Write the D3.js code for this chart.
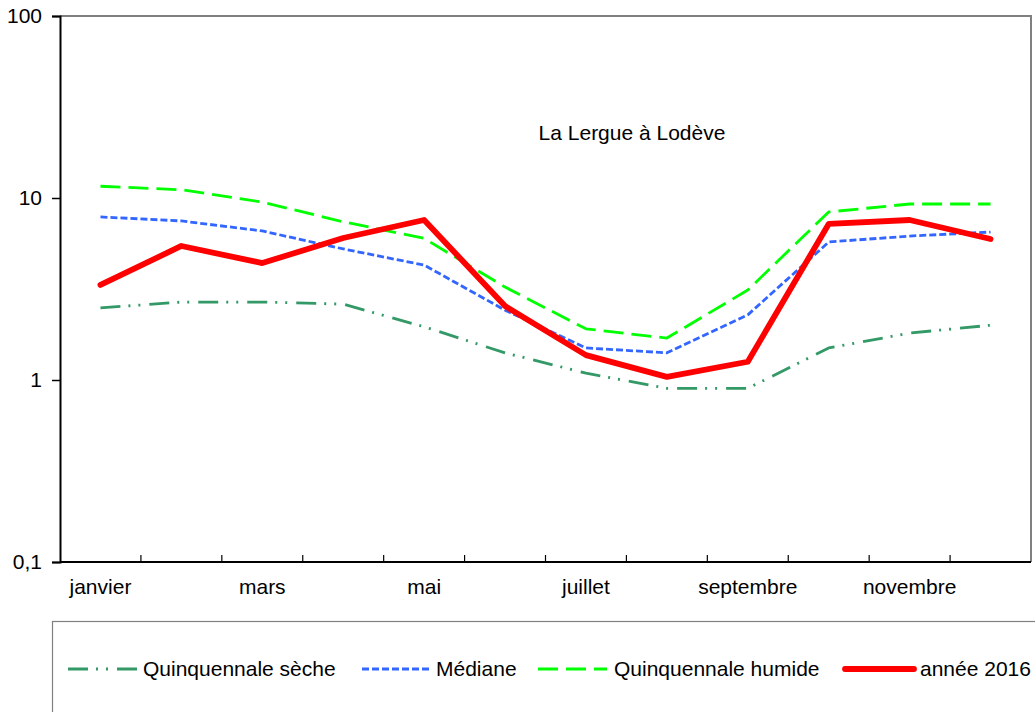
<!DOCTYPE html>
<html>
<head>
<meta charset="utf-8">
<script src="https://cdn.jsdelivr.net/npm/d3@7"></script>
<style>
  html, body { margin: 0; padding: 0; background: #fff; }
  svg { display: block; font-family: "Liberation Sans", Arial, sans-serif; }
</style>
</head>
<body>
<svg id="chart" width="1035" height="712"></svg>
<script>
// Monthly flows (m3/s) of La Lergue at Lodève
const months = ["janvier", "février", "mars", "avril", "mai", "juin",
                "juillet", "août", "septembre", "octobre", "novembre", "décembre"];
const shownMonths = ["janvier", "mars", "mai", "juillet", "septembre", "novembre"];
const yTicks = [0.1, 1, 10, 100];

const quinquennaleSeche  = [2.49, 2.68, 2.68, 2.61, 1.96, 1.41, 1.09, 0.90, 0.90, 1.50, 1.81, 2.00];
const mediane            = [7.87, 7.48, 6.59, 5.25, 4.28, 2.42, 1.50, 1.41, 2.28, 5.73, 6.18, 6.50];
const quinquennaleHumide = [11.6, 11.1, 9.5, 7.4, 6.0, 3.24, 1.91, 1.70, 3.12, 8.38, 9.27, 9.27];
const annee2016          = [3.33, 5.45, 4.39, 6.03, 7.57, 2.55, 1.37, 1.04, 1.26, 7.20, 7.57, 5.95];

const series = [
  { name: "Quinquennale sèche",  values: quinquennaleSeche,  color: "#339966", width: 2.8, dash: "20,8,2,8,2,9" },
  { name: "Médiane",             values: mediane,            color: "#3366FF", width: 2.8, dash: "7,3" },
  { name: "Quinquennale humide", values: quinquennaleHumide, color: "#00FF00", width: 2.8, dash: "20,8" },
  { name: "année 2016",          values: annee2016,          color: "#FF0000", width: 5.8, dash: null }
];

const FONT = 21;
const svg = d3.select("#chart");
const plot = { left: 60, top: 16, right: 1031, bottom: 562 };

const x = d3.scaleBand().domain(months).range([plot.left, plot.right]).padding(0);
const y = d3.scaleLog().domain([0.1, 100]).range([plot.bottom, plot.top]);

// plot frame: grey top/right border
svg.append("path")
  .attr("d", `M${plot.left},${plot.top}H${plot.right}V${plot.bottom}`)
  .attr("fill", "none").attr("stroke", "#808080").attr("stroke-width", 2);

// y axis
const yAxis = d3.axisLeft(y).tickValues(yTicks).tickSize(8).tickPadding(10)
  .tickFormat(d => String(d).replace(".", ","));
const gy = svg.append("g").attr("transform", `translate(${plot.left},0)`).call(yAxis);
gy.attr("font-family", null).attr("font-size", null);
gy.select(".domain").attr("stroke", "#000").attr("stroke-width", 2);
gy.selectAll(".tick line").attr("stroke", "#000").attr("stroke-width", 1.5);
gy.selectAll(".tick text").attr("font-size", FONT).attr("fill", "#000");

// x axis: ticks at category boundaries, labels every other month
const boundaries = months.map(m => x(m)).concat([plot.right]);
const gx = svg.append("g");
gx.append("line")
  .attr("x1", plot.left).attr("x2", plot.right)
  .attr("y1", plot.bottom).attr("y2", plot.bottom)
  .attr("stroke", "#000").attr("stroke-width", 2);
gx.selectAll("line.tick").data(boundaries.slice(1, -1)).join("line")
  .attr("class", "tick")
  .attr("x1", d => d).attr("x2", d => d)
  .attr("y1", plot.bottom).attr("y2", plot.bottom - 7)
  .attr("stroke", "#000").attr("stroke-width", 1.2);
gx.selectAll("text").data(shownMonths).join("text")
  .attr("x", d => x(d) + x.bandwidth() / 2)
  .attr("y", plot.bottom + 32)
  .attr("text-anchor", "middle")
  .attr("font-size", FONT).attr("fill", "#000")
  .text(d => d);

// title
svg.append("text").attr("x", 632).attr("y", 140)
  .attr("text-anchor", "middle").attr("font-size", FONT).attr("fill", "#000")
  .text("La Lergue à Lodève");

// series lines
const line = d3.line()
  .x((d, i) => x(months[i]) + x.bandwidth() / 2)
  .y(d => y(d));

svg.append("g").selectAll("path").data(series).join("path")
  .attr("d", d => line(d.values))
  .attr("fill", "none")
  .attr("stroke", d => d.color)
  .attr("stroke-width", d => d.width)
  .attr("stroke-dasharray", d => d.dash)
  .attr("stroke-linejoin", "round")
  .attr("stroke-linecap", d => d.dash ? "butt" : "round");

// legend
const legend = svg.append("g");
legend.append("rect")
  .attr("x", 52.5).attr("y", 621.5).attr("width", 1000).attr("height", 120)
  .attr("fill", "#fff").attr("stroke", "#808080").attr("stroke-width", 1.2);

const legendItems = [
  { x1: 68,  x2: 137, tx: 143 },
  { x1: 362, x2: 430, tx: 436 },
  { x1: 538, x2: 607, tx: 614 },
  { x1: 845, x2: 914, tx: 920 }
];
const ly = 669;
series.forEach((s, i) => {
  const pos = legendItems[i];
  legend.append("line")
    .attr("x1", pos.x1).attr("x2", pos.x2).attr("y1", ly).attr("y2", ly)
    .attr("stroke", s.color).attr("stroke-width", s.width)
    .attr("stroke-dasharray", s.dash)
    .attr("stroke-linecap", s.dash ? "butt" : "round");
  legend.append("text")
    .attr("x", pos.tx).attr("y", ly + 7)
    .attr("font-size", FONT).attr("fill", "#000")
    .text(s.name);
});
</script>
</body>
</html>
